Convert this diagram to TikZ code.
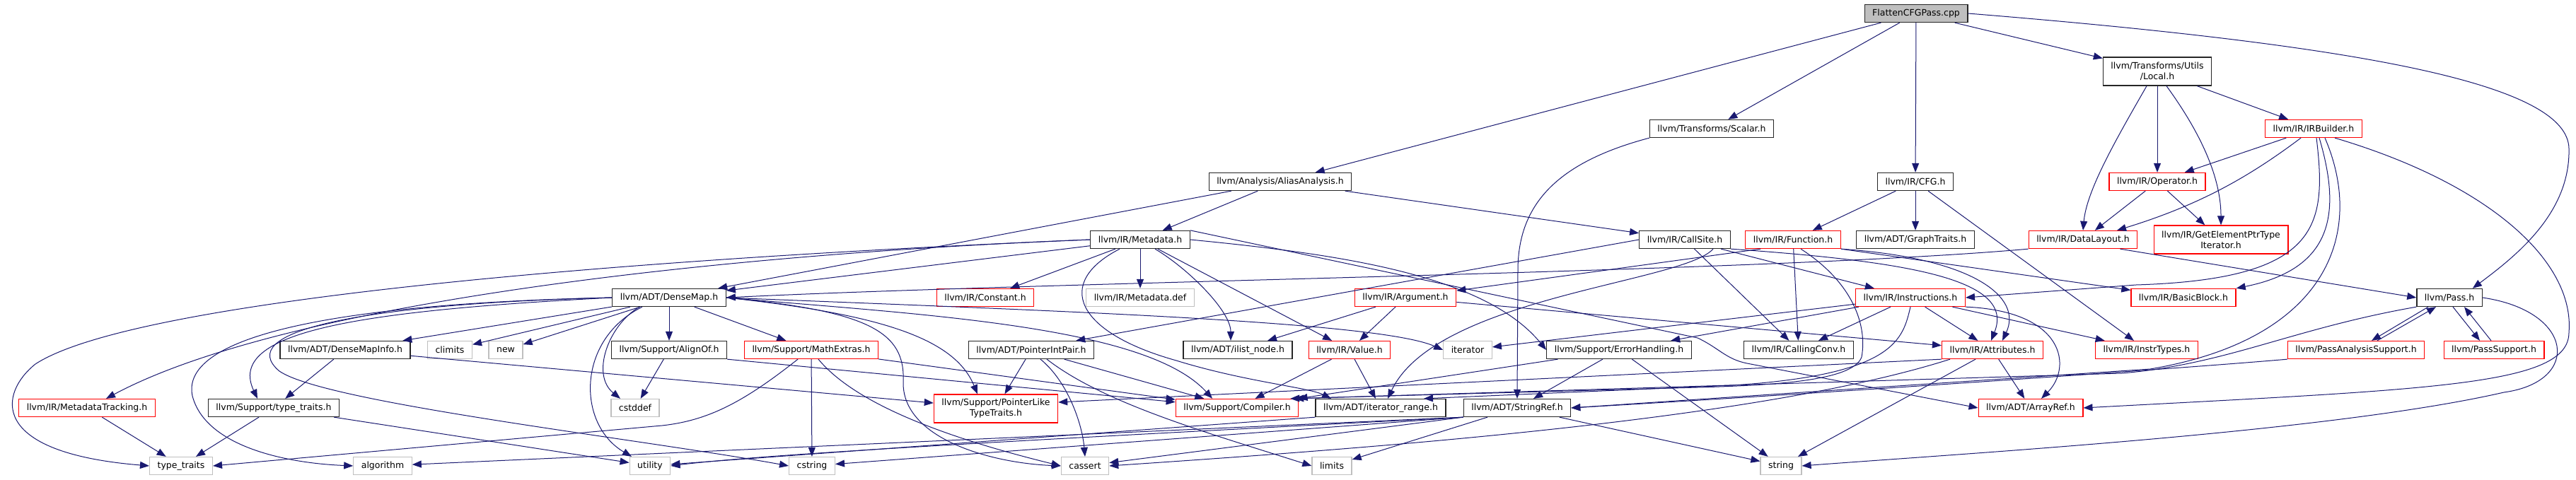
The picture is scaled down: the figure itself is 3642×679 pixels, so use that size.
\documentclass[tikz,border=0pt]{standalone}
\usepackage{fontspec}
\setmainfont{DejaVu Sans}
\usetikzlibrary{arrows.meta}
\definecolor{edgeblue}{HTML}{191970}
\definecolor{sysgray}{HTML}{BFBFBF}

\begin{document}
\begin{tikzpicture}[x=1pt, y=-1pt,
    incbox/.style={draw=black!85, line width=1.3pt, fill=white, inner xsep=11pt,
      inner ysep=2pt, minimum height=25pt, align=center,
      font=\fontsize{12.5}{15}\selectfont},
    hdr/.style={incbox},
    redhdr/.style={incbox, draw=red},
    sysinc/.style={incbox, draw=sysgray},
    rootfile/.style={incbox, fill=sysgray},
    twoline/.style={minimum height=40pt},
    edge/.style={draw=edgeblue, line width=1pt, -{Triangle[length=13pt, width=10pt]}}]
  \useasboundingbox (0,0) rectangle (3642,679);

  % file and its direct includes
  \node[rootfile] (root) at (2709,19) {FlattenCFGPass.cpp};
  \node[hdr] (alias) at (1810,257) {llvm/Analysis/AliasAnalysis.h};
  \node[hdr] (scalar) at (2420,182) {llvm/Transforms/Scalar.h};
  \node[hdr] (cfg) at (2708,257) {llvm/IR/CFG.h};
  \node[hdr, twoline] (local) at (3050,101) {llvm/Transforms/Utils\\/Local.h};
  \node[redhdr] (irbuilder) at (3271,182) {llvm/IR/IRBuilder.h};
  \node[redhdr] (operator) at (3050,257) {llvm/IR/Operator.h};

  % second level
  \node[hdr] (metadata) at (1612,339) {llvm/IR/Metadata.h};
  \node[hdr] (callsite) at (2382,339) {llvm/IR/CallSite.h};
  \node[redhdr] (function) at (2535,339) {llvm/IR/Function.h};
  \node[hdr] (graphtraits) at (2708,339) {llvm/ADT/GraphTraits.h};
  \node[redhdr] (datalayout) at (2945,339) {llvm/IR/DataLayout.h};
  \node[redhdr, twoline] (gep) at (3140,339) {llvm/IR/GetElementPtrType\\Iterator.h};

  % third level
  \node[hdr] (densemap) at (946,421) {llvm/ADT/DenseMap.h};
  \node[redhdr] (constant) at (1393,421) {llvm/IR/Constant.h};
  \node[sysinc] (metadef) at (1612,421) {llvm/IR/Metadata.def};
  \node[redhdr] (argument) at (1987,421) {llvm/IR/Argument.h};
  \node[redhdr] (instructions) at (2701,421) {llvm/IR/Instructions.h};
  \node[redhdr] (basicblock) at (3087,421) {llvm/IR/BasicBlock.h};
  \node[hdr] (pass) at (3463,421) {llvm/Pass.h};

  % fourth level
  \node[hdr] (densemapinfo) at (488,495) {llvm/ADT/DenseMapInfo.h};
  \node[sysinc] (climits) at (636,495) {climits};
  \node[sysinc] (new) at (715,495) {new};
  \node[hdr] (alignof) at (946,495) {llvm/Support/AlignOf.h};
  \node[redhdr] (mathextras) at (1147,495) {llvm/Support/MathExtras.h};
  \node[hdr] (pointerintpair) at (1458,495) {llvm/ADT/PointerIntPair.h};
  \node[hdr] (ilistnode) at (1750,495) {llvm/ADT/ilist\_node.h};
  \node[redhdr] (value) at (1908,495) {llvm/IR/Value.h};
  \node[sysinc] (iterator) at (2075,495) {iterator};
  \node[hdr] (errorhandling) at (2289,495) {llvm/Support/ErrorHandling.h};
  \node[hdr] (callingconv) at (2543,495) {llvm/IR/CallingConv.h};
  \node[redhdr] (attributes) at (2817,495) {llvm/IR/Attributes.h};
  \node[redhdr] (instrtypes) at (3035,495) {llvm/IR/InstrTypes.h};
  \node[redhdr] (passanalysis) at (3331,495) {llvm/PassAnalysisSupport.h};
  \node[redhdr] (passsupport) at (3526,495) {llvm/PassSupport.h};

  % fifth level
  \node[redhdr] (metatracking) at (123,577) {llvm/IR/MetadataTracking.h};
  \node[hdr] (typetraitsh) at (387,577) {llvm/Support/type\_traits.h};
  \node[sysinc] (cstddef) at (898,577) {cstddef};
  \node[redhdr, twoline] (pointerlike) at (1408,578) {llvm/Support/PointerLike\\TypeTraits.h};
  \node[redhdr] (compiler) at (1749,577) {llvm/Support/Compiler.h};
  \node[hdr] (iterrange) at (1952,577) {llvm/ADT/iterator\_range.h};
  \node[hdr] (stringref) at (2145,577) {llvm/ADT/StringRef.h};
  \node[redhdr] (arrayref) at (2871,577) {llvm/ADT/ArrayRef.h};

  % system headers
  \node[sysinc] (typetraits) at (256,659) {type\_traits};
  \node[sysinc] (algorithm) at (541,659) {algorithm};
  \node[sysinc] (utility) at (919,659) {utility};
  \node[sysinc] (cstring) at (1148,659) {cstring};
  \node[sysinc] (cassert) at (1534,659) {cassert};
  \node[sysinc] (limits) at (1883,659) {limits};
  \node[sysinc] (string) at (2518,659) {string};

  % straight includes
  \foreach \a/\b in {root/alias, root/scalar, root/cfg, root/local,
      alias/densemap, alias/metadata, alias/callsite,
      cfg/function, cfg/graphtraits, cfg/instrtypes,
      local/operator, local/irbuilder, irbuilder/operator,
      operator/datalayout, operator/gep,
      metadata/densemap, metadata/constant, metadata/metadef, metadata/value,
      callsite/callingconv, callsite/instructions, function/callingconv,
      instructions/errorhandling, instructions/iterator, instructions/callingconv,
      instructions/attributes, instructions/instrtypes,
      argument/ilistnode, argument/value, argument/attributes,
      value/iterrange, value/compiler,
      errorhandling/stringref, errorhandling/compiler, errorhandling/string,
      densemap/densemapinfo, densemap/climits, densemap/new, densemap/alignof,
      densemap/mathextras, densemapinfo/typetraitsh, densemapinfo/pointerlike,
      typetraitsh/typetraits, typetraitsh/utility, metatracking/typetraits,
      alignof/cstddef, mathextras/compiler, mathextras/cstring,
      pointerintpair/pointerlike, pointerintpair/compiler,
      stringref/limits, stringref/string, attributes/arrayref, attributes/string}
    \draw[edge] (\a) -- (\b);

  % routed includes, top part
  \draw[edge] (root.east) .. controls (3350,65) and (3630,120) .. (3632,210)
    .. controls (3634,300) and (3560,360) .. ([xshift=-14pt]pass.north east);
  \draw[edge] (scalar.south west) .. controls (2200,230) and (2147,290) .. (2146,380)
    -- (stringref.north);
  \draw[edge] ([xshift=-15pt]local.south) .. controls (2990,200) and (2950,270) .. (datalayout.north);
  \draw[edge] ([xshift=13pt]local.south) .. controls (3120,200) and (3140,260) .. (gep.north);
  \draw[edge] ([xshift=-18pt]irbuilder.south) .. controls (3180,250) and (3110,290)
    .. ([xshift=48pt]datalayout.north);
  \draw[edge] ([xshift=4pt]irbuilder.south) .. controls (3290,320) and (3280,395) .. (3020,403)
    -- (instructions.east);
  \draw[edge] ([xshift=8pt]irbuilder.south) .. controls (3310,300) and (3300,380)
    .. (basicblock.north east);
  \draw[edge] ([xshift=16pt]irbuilder.south) .. controls (3345,330) and (3290,480) .. (3040,522)
    -- (stringref.east);
  \draw[edge] ([xshift=30pt]irbuilder.south) .. controls (3520,260) and (3640,370) .. (3632,470)
    .. controls (3632,545) and (3450,550) .. (arrayref.east);
  \draw[edge] ([xshift=-25pt]datalayout.south east) -- (pass.west);
  \draw[edge] (datalayout.south west) .. controls (2500,385) and (1500,398) .. (densemap.east);

  % Pass.h and its support headers
  \draw[edge] ([xshift=-30pt]pass.south) -- ([xshift=22pt]passanalysis.north);
  \draw[edge] ([xshift=30pt]passanalysis.north) -- ([xshift=-19pt]pass.south);
  \draw[edge] ([xshift=5pt]pass.south) -- ([xshift=-20pt]passsupport.north);
  \draw[edge] ([xshift=-4pt]passsupport.north) -- ([xshift=21pt]pass.south);
  \draw[edge] (pass.east) .. controls (3640,440) and (3650,540) .. (3540,555)
    .. controls (3300,610) and (2800,640) .. (string.east);
  \draw[edge] (pass.south west) .. controls (3240,465) and (3150,515) .. (3000,528)
    -- ([xshift=-6pt]compiler.north east);
  \draw[edge] (passanalysis.south west) .. controls (3100,520) and (2600,555) .. (stringref.east);

  % Metadata.h
  \draw[edge] (metadata.west) .. controls (1000,360) and (400,430) .. ([xshift=27pt]metatracking.north);
  \draw[edge] (metadata.west) .. controls (800,370) and (180,430) .. (50,515)
    .. controls (0,555) and (-20,640) .. (typetraits.west);
  \draw[edge] ([xshift=21pt]metadata.south) .. controls (1680,380) and (1740,440)
    .. ([xshift=-10pt]ilistnode.north);
  \draw[edge] (metadata.east) .. controls (1900,360) and (2100,390) .. (errorhandling.west);
  \draw[edge] (metadata.north east) -- (2400,478) .. controls (2430,492) and (2440,508) .. (2470,514)
    -- (arrayref.west);
  \draw[edge] ([xshift=-29pt]metadata.south) .. controls (1490,400) and (1520,470) .. (1663,510)
    .. controls (1760,540) and (1850,548) .. ([xshift=-70pt]iterrange.north);

  % CallSite.h, Function.h, Instructions.h
  \draw[edge] (callsite.west) -- ([xshift=-26pt]pointerintpair.north east);
  \draw[edge] ([xshift=40pt]callsite.south) .. controls (2380,400) and (2030,420)
    .. ([xshift=10pt]iterrange.north);
  \draw[edge] (callsite.south east) .. controls (2700,370) and (2850,395) .. ([xshift=-2pt]attributes.north);
  \draw[edge] ([xshift=22pt]function.south west) -- (argument);
  \draw[edge] (function.south east) -- (basicblock);
  \draw[edge] (function.south east) .. controls (2790,365) and (2860,420) .. ([xshift=14pt]attributes.north);
  \draw[edge] ([xshift=11pt]function.south) .. controls (2620,400) and (2640,460) .. (2632,505)
    .. controls (2620,540) and (2500,545) .. (2400,548) -- ([xshift=-12pt]compiler.north east);
  \draw[edge] (instructions.south) .. controls (2690,480) and (2680,530) .. (2450,545)
    -- ([xshift=61pt]iterrange.north);
  \draw[edge] (instructions.south east) .. controls (2920,440) and (2930,520) .. ([xshift=15pt]arrayref.north);

  % DenseMap.h
  \draw[edge] (densemap.east) .. controls (1300,445) and (1620,460) .. ([xshift=-35pt]compiler.north);
  \draw[edge] (densemap.east) .. controls (1250,445) and (1350,480) .. ([xshift=-26pt]pointerlike.north);
  \draw[edge] (densemap.east) .. controls (1230,440) and (1280,470) .. (1277,540)
    .. controls (1275,620) and (1400,655) .. (cassert.west);
  \draw[edge] (densemap.east) .. controls (1500,440) and (1950,455) .. (iterator.west);
  \draw[edge] (densemap.west) .. controls (500,430) and (330,470) .. (395,525)
    .. controls (460,570) and (900,620) .. (cstring.west);
  \draw[edge] (densemap.west) .. controls (450,430) and (255,480) .. (272,560)
    .. controls (290,630) and (400,655) .. (algorithm.west);
  \draw[edge] (densemap.west) .. controls (500,440) and (320,470) .. ([xshift=-23pt]typetraitsh.north);
  \draw[edge] ([xshift=-42pt]densemap.south) .. controls (860,460) and (835,530) .. ([xshift=-21pt]cstddef.north);
  \draw[edge] ([xshift=-38pt]densemap.south) .. controls (815,480) and (815,600) .. ([xshift=-26pt]utility.north);

  % lower headers
  \draw[edge] (alignof.south east) -- (compiler);
  \draw[edge] ([xshift=10pt]mathextras.south) .. controls (1200,560) and (1300,610) .. (cassert.west);
  \draw[edge] ([xshift=-19pt]mathextras.south) .. controls (1050,570) and (1000,595) .. (936,602)
    -- (typetraits.east);
  \draw[edge] ([xshift=13pt]pointerintpair.south) .. controls (1510,540) and (1530,600) .. (cassert.north);
  \draw[edge] ([xshift=22pt]pointerintpair.south) .. controls (1560,570) and (1700,610) .. (limits.west);
  \draw[edge] (stringref.south west) -- (cassert);
  \draw[edge] (stringref.south west) -- (cstring);
  \draw[edge] (stringref.south west) .. controls (1600,615) and (1100,640) .. (utility.east);
  \draw[edge] (stringref.south west) -- (algorithm);
  \draw[edge] (iterrange.south west) -- (utility);
  \draw[edge] (attributes.south west) -- ([yshift=9pt]pointerlike.east);
  \draw[edge] ([xshift=-60pt]attributes.south) .. controls (2500,590) and (2000,630) .. (cassert.east);
\end{tikzpicture}
\end{document}
